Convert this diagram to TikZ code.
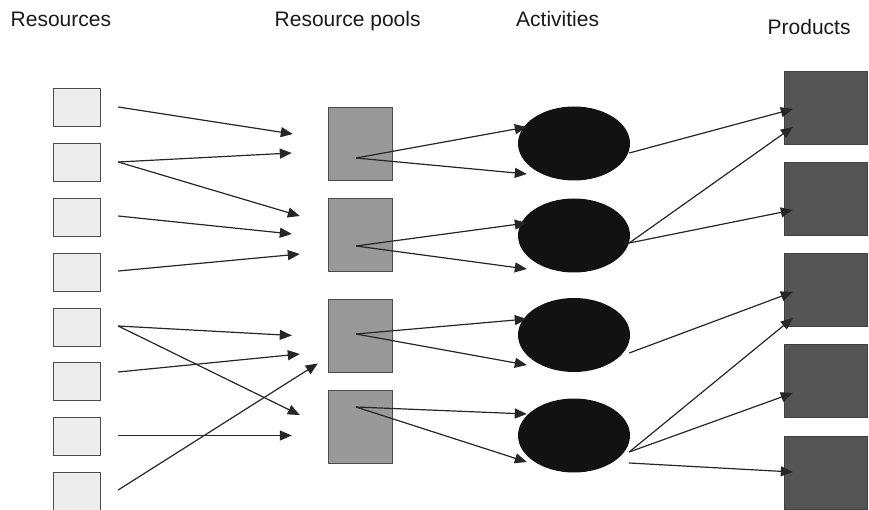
\documentclass[tikz,border=0pt]{standalone}
\usepackage{fontspec}
\setmainfont{Liberation Sans}
\usetikzlibrary{positioning, arrows.meta, shapes.geometric}

\begin{document}
\begin{tikzpicture}[x=1pt,y=-1pt,font=\fontsize{21}{24}\selectfont,
  heading/.style={anchor=base west, inner sep=0pt, text=black!90},
  resource/.style={draw=black!70, fill=black!7, minimum width=47pt, minimum height=38pt, inner sep=0pt},
  pool/.style={draw=black!70, fill=black!40, minimum width=64pt, minimum height=73pt, inner sep=0pt},
  activity/.style={ellipse, fill=black!93, minimum width=112pt, minimum height=74pt, inner sep=0pt},
  product/.style={draw=black!75, fill=black!67, minimum width=83pt, minimum height=73pt, inner sep=0pt},
  flow/.style={draw=black!85, line width=1.2pt, -{Triangle[length=12pt,width=10pt]}}]

\useasboundingbox (0,0) rectangle (869,510);

% Headings
\node[heading] (hres) at (10.5,27) {Resources};
\node[heading] (hpool) at (274.5,27) {Resource pools};
\node[heading] (hact) at (516,27) {Activities};
\node[heading] (hprod) at (767.5,35) {Products};

% Resources
\node[resource] (res1) at (77,107) {};
\node[resource] (res2) at (77,162) {};
\node[resource] (res3) at (77,217) {};
\node[resource] (res4) at (77,272) {};
\node[resource] (res5) at (77,327) {};
\node[resource] (res6) at (77,381) {};
\node[resource] (res7) at (77,436) {};
\node[resource] (res8) at (77,491) {};

% Resource pools
\node[pool] (pool1) at (360,143.5) {};
\node[pool] (pool2) at (360,235) {};
\node[pool] (pool3) at (360,335.5) {};
\node[pool] (pool4) at (360,426.5) {};

% Activities
\node[activity] (act1) at (574,143.5) {};
\node[activity] (act2) at (574,235.5) {};
\node[activity] (act3) at (574,335) {};
\node[activity] (act4) at (574,435.5) {};

% Products
\node[product] (prod1) at (825.5,107.5) {};
\node[product] (prod2) at (825.5,198.5) {};
\node[product] (prod3) at (825.5,290) {};
\node[product] (prod4) at (825.5,381) {};
\node[product] (prod5) at (825.5,472.5) {};

% Resources -> pools
\draw[flow] ([xshift=17.5pt]res1.east) -- ([xshift=-35pt,yshift=9.5pt]pool1.west);
\draw[flow] ([xshift=17.5pt]res2.east) -- ([xshift=-36pt,yshift=-9.5pt]pool1.west);
\draw[flow] ([xshift=17.5pt]res2.east) -- ([xshift=-28pt,yshift=19pt]pool2.west);
\draw[flow] ([xshift=17.5pt,yshift=1pt]res3.east) -- ([xshift=-36pt,yshift=1pt]pool2.west);
\draw[flow] ([xshift=17.5pt,yshift=1pt]res4.east) -- ([xshift=-28pt,yshift=-19pt]pool2.west);
\draw[flow] ([xshift=17.5pt,yshift=1pt]res5.east) -- ([xshift=-36pt]pool3.west);
\draw[flow] ([xshift=17.5pt,yshift=1pt]res5.east) -- ([xshift=-28pt,yshift=11.5pt]pool4.west);
\draw[flow] ([xshift=17.5pt,yshift=9pt]res6.east) -- ([xshift=-28pt,yshift=-18.5pt]pool3.west);
\draw[flow] ([xshift=17.5pt,yshift=0.5pt]res7.east) -- ([xshift=-36pt,yshift=-9pt]pool4.west);
\draw[flow] ([xshift=17.5pt,yshift=1pt]res8.east) -- ([xshift=-10pt,yshift=-28pt]pool3.west);

% Pools -> activities
\draw[flow] ([xshift=-4pt,yshift=-14.5pt]pool1.center) -- ([xshift=9pt,yshift=16.5pt]act1.west);
\draw[flow] ([xshift=-4pt,yshift=-14.5pt]pool1.center) -- ([xshift=9pt,yshift=-30.5pt]act1.west);
\draw[flow] ([xshift=-4pt,yshift=-11pt]pool2.center) -- ([xshift=9pt,yshift=12.5pt]act2.west);
\draw[flow] ([xshift=-4pt,yshift=-11pt]pool2.center) -- ([xshift=9pt,yshift=-33.5pt]act2.west);
\draw[flow] ([xshift=-4pt,yshift=1.5pt]pool3.center) -- ([xshift=9pt,yshift=16pt]act3.west);
\draw[flow] ([xshift=-4pt,yshift=1.5pt]pool3.center) -- ([xshift=9pt,yshift=-30pt]act3.west);
\draw[flow] ([xshift=-4pt,yshift=19.5pt]pool4.center) -- ([xshift=9pt,yshift=21.5pt]act4.west);
\draw[flow] ([xshift=-4pt,yshift=19.5pt]pool4.center) -- ([xshift=9pt,yshift=-26.5pt]act4.west);

% Activities -> products
\draw[flow] ([xshift=-1pt,yshift=-9.5pt]act1.east) -- ([xshift=9pt,yshift=-1.5pt]prod1.west);
\draw[flow] ([xshift=-1pt,yshift=-7.5pt]act2.east) -- ([xshift=9pt,yshift=-19.5pt]prod1.west);
\draw[flow] ([xshift=-1pt,yshift=-7.5pt]act2.east) -- ([xshift=9pt,yshift=-11.5pt]prod2.west);
\draw[flow] ([xshift=-1pt,yshift=-18pt]act3.east) -- ([xshift=9pt,yshift=-2pt]prod3.west);
\draw[flow] ([xshift=-1pt,yshift=-16.5pt]act4.east) -- ([xshift=9pt,yshift=-28pt]prod3.west);
\draw[flow] ([xshift=-1pt,yshift=-16.5pt]act4.east) -- ([xshift=9pt,yshift=-12pt]prod4.west);
\draw[flow] ([xshift=-1pt,yshift=-27.5pt]act4.east) -- ([xshift=9pt,yshift=0.5pt]prod5.west);

\end{tikzpicture}
\end{document}
